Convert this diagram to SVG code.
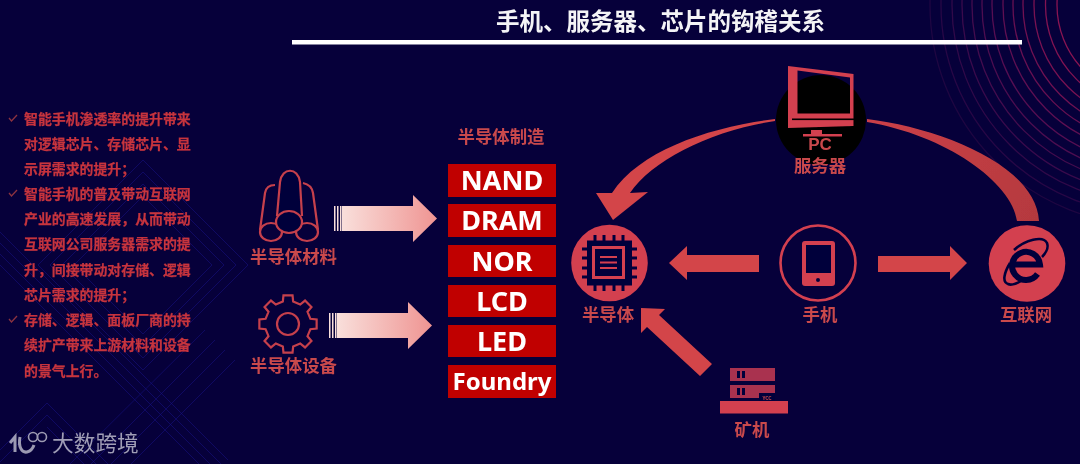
<svg xmlns="http://www.w3.org/2000/svg" width="1080" height="464" viewBox="0 0 1080 464">
<defs>
<style>
text{font-family:"Noto Sans CJK SC","Noto Sans",sans-serif}
.body{font-size:13.9px;font-weight:700;fill:#c7343e;stroke:#c7343e;stroke-width:.25}
.lab{font-size:17.4px;font-weight:700;fill:#c9484c;text-anchor:middle}
.blk{fill:#c00000}
.bt{font-family:"Noto Sans",sans-serif;font-weight:700;fill:#fff;text-anchor:middle}
.red{fill:#d33f50}
.arr{fill:#d3444a}
.navy{fill:#06003a}
.ln{fill:none;stroke:#c6404c;stroke-width:2.200}
.chk{fill:none;stroke:#8c3340;stroke-width:1.3}
.dia{fill:none;stroke:#17118a;stroke-width:1;opacity:.5}
.arc{fill:none;stroke-width:1.3}
.pin{stroke:#06003a;stroke-width:3}
</style>
<linearGradient id="g1" x1="0" x2="1" y1="0" y2="0"><stop offset="0" stop-color="#f9dfdb"/><stop offset="1" stop-color="#ef9492"/></linearGradient>
<linearGradient id="g2" gradientUnits="userSpaceOnUse" x1="867" y1="120" x2="1039" y2="220"><stop offset="0" stop-color="#cb4048"/><stop offset="1" stop-color="#b5393e"/></linearGradient>
<filter id="soft" x="-2%" y="-2%" width="104%" height="104%"><feGaussianBlur stdDeviation="0.45"/></filter>
</defs>
<rect width="1080" height="464" fill="#06003a"/>
<g id="background">
<g id="diamonds">
<path class="dia" d="M143 160L248 265L143 370L38 265Z"/>
<path class="dia" d="M143 172L236 265L143 358L50 265Z"/>
<path class="dia" d="M143 184L224 265L143 346L62 265Z"/>
<path class="dia" d="M143 196L212 265L143 334L74 265Z"/>
<path class="dia" d="M0 232L228 460M0 243L221 464M0 254L210 464M0 265L199 464"/>
<path class="dia" d="M47 403L128 484M47 403L-20 470M47 415L116 484M47 415L-12 474M47 427L104 484"/>
<path class="dia" d="M205 330L70 464M215 340L91 464M225 350L111 464M235 360L131 464"/>
</g>
<g id="rings" transform="translate(1150,5)">
<circle class="arc" r="93" stroke="#8a1452"/><circle class="arc" r="104.500" stroke="#831352"/><circle class="arc" r="116" stroke="#7a1252"/><circle class="arc" r="127" stroke="#711152"/><circle class="arc" r="137" stroke="#681052"/><circle class="arc" r="147" stroke="#5f0f52"/><circle class="arc" r="158" stroke="#560e52"/><circle class="arc" r="168" stroke="#4d0d50"/><circle class="arc" r="178" stroke="#440c4e"/><circle class="arc" r="188" stroke="#3a0a4c"/><circle class="arc" r="198" stroke="#310949"/><circle class="arc" r="209" stroke="#280746"/><circle class="arc" r="220" stroke="#1f0642"/>
</g>
</g>
<g filter="url(#soft)">
<g id="title">
<text x="660.500" y="30" font-size="23.500" font-weight="700" fill="#f4f4f6" text-anchor="middle">手机、服务器、芯片的钩稽关系</text>
<rect x="292" y="40" width="730" height="4.500" fill="#fff"/>
</g>
<g id="bullets">
<path class="chk" d="M9 118L11.500 121L17 115"/><path class="chk" d="M9 193L11.500 196L17 190"/><path class="chk" d="M9 319L11.500 322L17 316"/>
<text class="body" x="24" y="124">智能手机渗透率的提升带来</text>
<text class="body" x="24" y="149">对逻辑芯片、存储芯片、显</text>
<text class="body" x="24" y="174">示屏需求的提升；</text>
<text class="body" x="24" y="199">智能手机的普及带动互联网</text>
<text class="body" x="24" y="224">产业的高速发展，从而带动</text>
<text class="body" x="24" y="249">互联网公司服务器需求的提</text>
<text class="body" x="24" y="275">升，间接带动对存储、逻辑</text>
<text class="body" x="24" y="300">芯片需求的提升；</text>
<text class="body" x="24" y="325">存储、逻辑、面板厂商的持</text>
<text class="body" x="24" y="350">续扩产带来上游材料和设备</text>
<text class="body" x="24" y="376">的景气上行。</text>
</g>
<g id="watermark">
<path d="M10 443L15 437V452M20 437C18 447 22 453 27 452C31 451 33 448 34 445" fill="none" stroke="#9c9ab2" stroke-width="3"/>
<circle cx="33" cy="437" r="4.500" fill="none" stroke="#9c9ab2" stroke-width="1.600"/><circle cx="42" cy="437" r="4.500" fill="none" stroke="#9c9ab2" stroke-width="1.600"/>
<text x="52" y="451" font-size="21.700" font-weight="400" fill="#a09eb6">大数跨境</text>
</g>
<g id="materials">
<ellipse class="ln" cx="271" cy="232" rx="11" ry="9"/>
<ellipse class="ln" cx="307" cy="232" rx="11" ry="9"/>
<path class="ln" d="M260 230L265 193C266 187 270 185 275 185M318 230L313 193C312 187 308 184 303 183"/>
<path class="navy" d="M277 222L280 182C282 167 298 167 300 182L302 222L289 236Z"/>
<ellipse class="navy" cx="289" cy="222" rx="13" ry="11"/>
<ellipse class="ln" cx="289" cy="222" rx="13" ry="11"/>
<path class="ln" d="M277 216L280 182C282 167 298 167 300 182L302 216"/>
<text class="lab" x="293.500" y="263">半导体材料</text>
</g>
<g id="equipment">
<path class="ln" transform="translate(288,324)" d="M-5.170 -22.410L-4.540 -28.640L4.540 -28.640L5.170 -22.410L12.190 -19.500L17.040 -23.460L23.460 -17.040L19.500 -12.190L22.410 -5.170L28.640 -4.540L28.640 4.540L22.410 5.170L19.500 12.190L23.460 17.040L17.040 23.460L12.190 19.500L5.170 22.410L4.540 28.640L-4.540 28.640L-5.170 22.410L-12.190 19.500L-17.040 23.460L-23.460 17.040L-19.500 12.190L-22.410 5.170L-28.640 4.540L-28.640 -4.540L-22.410 -5.170L-19.500 -12.190L-23.460 -17.040L-17.040 -23.460L-12.190 -19.500Z"/>
<circle class="ln" cx="288" cy="324" r="11"/>
<text class="lab" x="293.500" y="372">半导体设备</text>
</g>
<g id="fab">
<text class="lab" x="501" y="143">半导体制造</text>
<rect class="blk" x="448" y="164" width="108" height="33"/><text class="bt" x="502" y="190" font-size="27">NAND</text>
<rect class="blk" x="448" y="204" width="108" height="33"/><text class="bt" x="502" y="230" font-size="27">DRAM</text>
<rect class="blk" x="448" y="245" width="108" height="32"/><text class="bt" x="502" y="270.500" font-size="27">NOR</text>
<rect class="blk" x="448" y="285" width="108" height="32"/><text class="bt" x="502" y="310.500" font-size="27">LCD</text>
<rect class="blk" x="448" y="325" width="108" height="32"/><text class="bt" x="502" y="350.500" font-size="27">LED</text>
<rect class="blk" x="448" y="365" width="108" height="33"/><text class="bt" x="502" y="390" font-size="24">Foundry</text>
</g>
<g id="server">
<circle cx="821" cy="120" r="45" fill="#000"/>
<path class="red" fill-rule="evenodd" d="M788 66L853.500 74V126L788 128ZM797.500 70.500V113.500H850V77.500Z"/>
<rect x="792" y="118.500" width="62" height="1.600" fill="#000"/>
<path class="red" d="M811 130H822V134H842V136.500H803V134H811Z"/>
<text x="820" y="150" font-size="17" font-weight="700" fill="#c9484c" text-anchor="middle" style="font-family:'Liberation Sans',sans-serif">PC</text>
<text class="lab" x="820" y="172">服务器</text>
</g>
<g id="semiconductor">
<circle class="red" cx="609.500" cy="263" r="38.300"/>
<g class="pin">
<path d="M595 235V291M604 235V291M614 235V291M623 235V291M582 249H637M582 258H637M582 268H637M582 277H637"/>
</g>
<rect class="navy" x="587" y="240.500" width="45" height="45"/>
<rect class="red" x="592" y="246" width="33" height="33"/>
<rect class="navy" x="595" y="249" width="27" height="27"/>
<path d="M600 257H617M600 262.500H617M600 268H617" stroke="#d33f50" stroke-width="1.800"/>
<text class="lab" x="608" y="321">半导体</text>
</g>
<g id="phone">
<circle cx="818" cy="263" r="37.500" fill="none" stroke="#d33f50" stroke-width="2.600"/>
<rect class="red" x="802" y="241" width="33" height="45" rx="3"/>
<rect class="navy" x="806" y="245" width="25" height="28"/>
<circle class="navy" cx="818" cy="280" r="2"/>
<text class="lab" x="820" y="321">手机</text>
</g>
<g id="internet">
<circle class="red" cx="1027" cy="263.500" r="38.300"/>
<path d="M1012 264.500H1040A14 14 0 1 0 1037.500 274" fill="none" stroke="#06003a" stroke-width="6"/>
<path d="M1014 250C1025 240 1043 235 1047 243C1049 248 1045 254 1042 257M1010 263C1004 273 1002 282 1008 284C1012 286 1018 283 1023 280" fill="none" stroke="#06003a" stroke-width="2.600"/>
<text class="lab" x="1026" y="321">互联网</text>
</g>
<g id="miner">
<rect x="730" y="368" width="45" height="13" fill="#a9304f"/>
<rect x="730" y="385" width="45" height="13" fill="#a9304f"/>
<path class="navy" d="M737 371h3v7h-3ZM742 371h3v7h-3ZM737 388h3v7h-3ZM742 388h3v7h-3Z"/>
<rect class="navy" x="759" y="393" width="16" height="8"/>
<text x="767" y="399.500" font-size="5" font-weight="700" fill="#c9484c" text-anchor="middle">YCC</text>
<rect class="red" x="720" y="401" width="68" height="12.500"/>
<text class="lab" x="752" y="436">矿机</text>
</g>
<g id="connectors">
<path fill="url(#g1)" d="M342 206H413V195L437 218.500L413 242V231H342Z"/>
<path fill="#f9dfdb" d="M334 206h1.500v25h-1.500ZM337 206h1.500v25h-1.500ZM340 206h1.500v25h-1.500Z"/>
<path fill="url(#g1)" d="M337 313H408V302L432 325.500L408 349V338H337Z"/>
<path fill="#f9dfdb" d="M329 313h1.500v25h-1.500ZM332 313h1.500v25h-1.500ZM335 313h1.500v25h-1.500Z"/>
<path class="arr" d="M775 119C710 127 640 150 612 193L596 193L613 220L648 192L630 193C652 160 712 130 775 121Z"/>
<path fill="url(#g2)" d="M867 119C940 128 1036 165 1039 221L1017 221C1012 182 945 135 867 122Z"/>
<path class="arr" d="M759 255V272H687V280L669 263L687 246V255Z"/>
<path class="arr" d="M878 256V272H950V280L967 263L950 246V256Z"/>
<path class="arr" d="M641 308L665 309L659 315L712 364L700 376L647 327L641 333Z"/>
</g>
</g>
</svg>
